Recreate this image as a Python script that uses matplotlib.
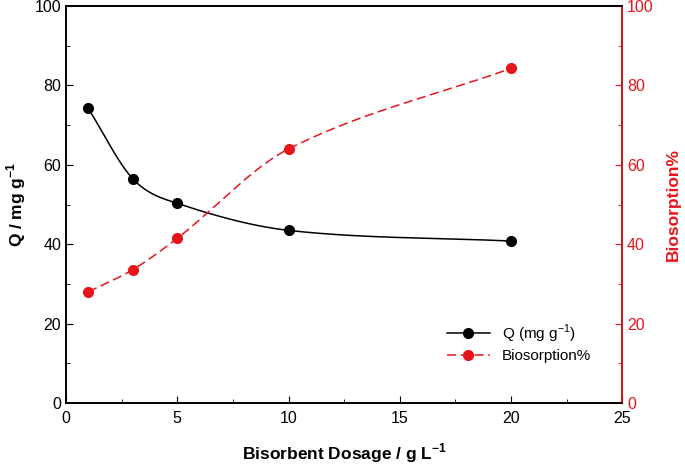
import numpy as np
import matplotlib
matplotlib.use("Agg")
import matplotlib.pyplot as plt
from matplotlib.ticker import MultipleLocator
from matplotlib.lines import Line2D

plt.rcParams['font.family'] = ['Liberation Sans', 'DejaVu Sans']
plt.rcParams['mathtext.fontset'] = 'custom'
plt.rcParams['mathtext.rm'] = 'Liberation Sans'
plt.rcParams['mathtext.bf'] = 'Liberation Sans:bold'

dosage = [1, 3, 5, 10, 20]
q_values = [74.2, 56.5, 50.3, 43.5, 40.8]
biosorption = [28.0, 33.6, 41.5, 64.0, 84.3]

def smooth(x, y, n=300):
    # finite-difference (Catmull-Rom style) Hermite curve through the points
    x = np.asarray(x, float); y = np.asarray(y, float)
    h = np.diff(x); k = len(x)
    d = np.zeros(k)
    d[0] = (y[1] - y[0]) / h[0]
    d[-1] = (y[-1] - y[-2]) / h[-1]
    for i in range(1, k - 1):
        d[i] = (y[i + 1] - y[i - 1]) / (x[i + 1] - x[i - 1])
    xs = np.linspace(x[0], x[-1], n)
    idx = np.clip(np.searchsorted(x, xs) - 1, 0, k - 2)
    t = (xs - x[idx]) / h[idx]
    h00 = 2 * t**3 - 3 * t**2 + 1; h10 = t**3 - 2 * t**2 + t
    h01 = -2 * t**3 + 3 * t**2; h11 = t**3 - t**2
    ys = h00 * y[idx] + h10 * h[idx] * d[idx] + h01 * y[idx + 1] + h11 * h[idx] * d[idx + 1]
    return xs, ys

fig = plt.figure(figsize=(6.85, 4.67), dpi=100)
ax = fig.add_axes([0.0964, 0.137, 0.812, 0.850])
ax2 = ax.twinx()

red = '#e8141c'
xs, ys = smooth(dosage, q_values)
ax.plot(xs, ys, color='black', lw=1.1)
ax.plot(dosage, q_values, 'o', color='black', ms=7)
xs2, ys2 = smooth(dosage, biosorption)
ax2.plot(xs2, ys2, color=red, lw=1.1, dashes=(6, 3))
ax2.plot(dosage, biosorption, 'o', color=red, ms=7)

ax.set_xlim(0, 25); ax.set_ylim(0, 100); ax2.set_ylim(0, 100)
ax.xaxis.set_major_locator(MultipleLocator(5)); ax.xaxis.set_minor_locator(MultipleLocator(2.5))
ax.yaxis.set_major_locator(MultipleLocator(20)); ax.yaxis.set_minor_locator(MultipleLocator(10))
ax2.yaxis.set_major_locator(MultipleLocator(20)); ax2.yaxis.set_minor_locator(MultipleLocator(10))

ax.tick_params(which='both', direction='in', labelsize=11.5, top=False)
ax.tick_params(which='major', length=5); ax.tick_params(which='minor', length=3)
ax.tick_params(axis='x', pad=6)
ax2.tick_params(which='both', direction='in', colors=red, labelsize=11.5)
ax2.tick_params(which='major', length=5); ax2.tick_params(which='minor', length=3)
for a in (ax, ax2):
    for s in a.spines.values():
        s.set_linewidth(1.3)
ax2.spines['right'].set_color(red)
ax.spines['left'].set_color('#222222')

ax.set_xlabel('Bisorbent Dosage / g L$^{\\mathbf{-1}}$', fontsize=12.5, fontweight='bold', labelpad=11)
ax.set_ylabel('Q / mg g$^{\\mathbf{-1}}$', fontsize=12.5, fontweight='bold', labelpad=5)
ax2.set_ylabel('Biosorption%', fontsize=12.5, fontweight='bold', color=red, labelpad=9)

handles = [Line2D([0], [0], color='black', marker='o', ms=7, lw=1.1),
           Line2D([0], [0], color=red, marker='o', ms=7, lw=1.1, dashes=(6, 3))]
ax.legend(handles, ['Q (mg g$^{-1}$)', 'Biosorption%'], loc='lower right',
          bbox_to_anchor=(0.955, 0.085), borderaxespad=0, frameon=False, fontsize=11,
          handlelength=2.8, labelspacing=0.3, handletextpad=0.8)

fig.savefig('out.png', dpi=100)
